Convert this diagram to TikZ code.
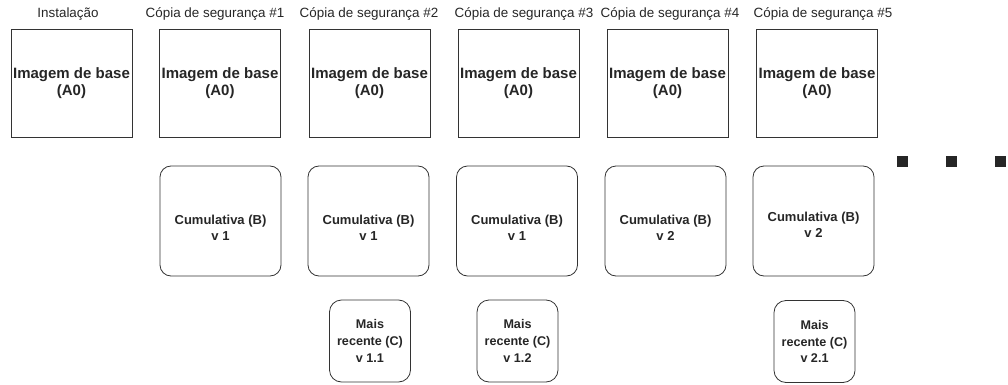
\documentclass[tikz,border=0pt]{standalone}
\usepackage{fontspec}
\setmainfont{Liberation Sans}
\begin{document}
\begin{tikzpicture}[x=1pt,y=-1pt,
  ttl/.style={font=\fontsize{13.4}{15}\selectfont, inner sep=0pt, text=black!85},
  abox/.style={draw=black!80, line width=0.8pt, minimum width=121pt, minimum height=108pt, inner sep=0pt,
    align=center, font=\fontsize{15}{17}\selectfont\bfseries, text=black!85},
  bbox/.style={draw=black!80, line width=0.8pt, rounded corners=11pt, minimum width=121pt, minimum height=110pt, inner sep=0pt},
  btext/.style={align=center, font=\fontsize{13}{16.5}\selectfont\bfseries, text=black!85, yshift=-7pt, inner sep=0pt},
  cbox/.style={draw=black!80, line width=0.8pt, rounded corners=12pt, minimum width=81pt, minimum height=82pt, inner sep=0pt,
    align=center, font=\fontsize{12.6}{16.8}\selectfont\bfseries, text=black!85},
  dot/.style={fill=black!85, minimum size=11pt, inner sep=0pt}]
\useasboundingbox (0,0) rectangle (1008,385);

% titles
\node[ttl] (t1) at (68,14) {Instalação};
\node[ttl] (t2) at (215,14) {Cópia de segurança \#1};
\node[ttl] (t3) at (369,14) {Cópia de segurança \#2};
\node[ttl] (t4) at (524,14) {Cópia de segurança \#3};
\node[ttl] (t5) at (670,14) {Cópia de segurança \#4};
\node[ttl] (t6) at (823,14) {Cópia de segurança \#5};

% base images
\node[abox] (a1) at (71.5,83) {Imagem de base\\(A0)};
\node[abox] (a2) at (220,83) {Imagem de base\\(A0)};
\node[abox] (a3) at (369.5,83) {Imagem de base\\(A0)};
\node[abox] (a4) at (518.5,83) {Imagem de base\\(A0)};
\node[abox] (a5) at (667.5,83) {Imagem de base\\(A0)};
\node[abox] (a6) at (817,83) {Imagem de base\\(A0)};

% cumulative
\node[bbox, label={[btext]center:Cumulativa (B)\\v 1}] (b2) at (220.5,221) {};
\node[bbox, label={[btext]center:Cumulativa (B)\\v 1}] (b3) at (368.5,221) {};
\node[bbox, label={[btext]center:Cumulativa (B)\\v 1}] (b4) at (517,221) {};
\node[bbox, label={[btext]center:Cumulativa (B)\\v 2}] (b5) at (665.5,221) {};
\node[bbox, label={[btext,yshift=3pt]center:Cumulativa (B)\\v 2}] (b6) at (813.5,221) {};

% most recent
\node[cbox] (c3) at (370,341) {Mais\\recente (C)\\v 1.1};
\node[cbox] (c4) at (517.5,341) {Mais\\recente (C)\\v 1.2};
\node[cbox] (c6) at (814.5,341.5) {Mais\\recente (C)\\v 2.1};

% ellipsis
\node[dot] (d1) at (902,161) {};
\node[dot] (d2) at (951,161) {};
\node[dot] (d3) at (1000,161) {};
\end{tikzpicture}
\end{document}
